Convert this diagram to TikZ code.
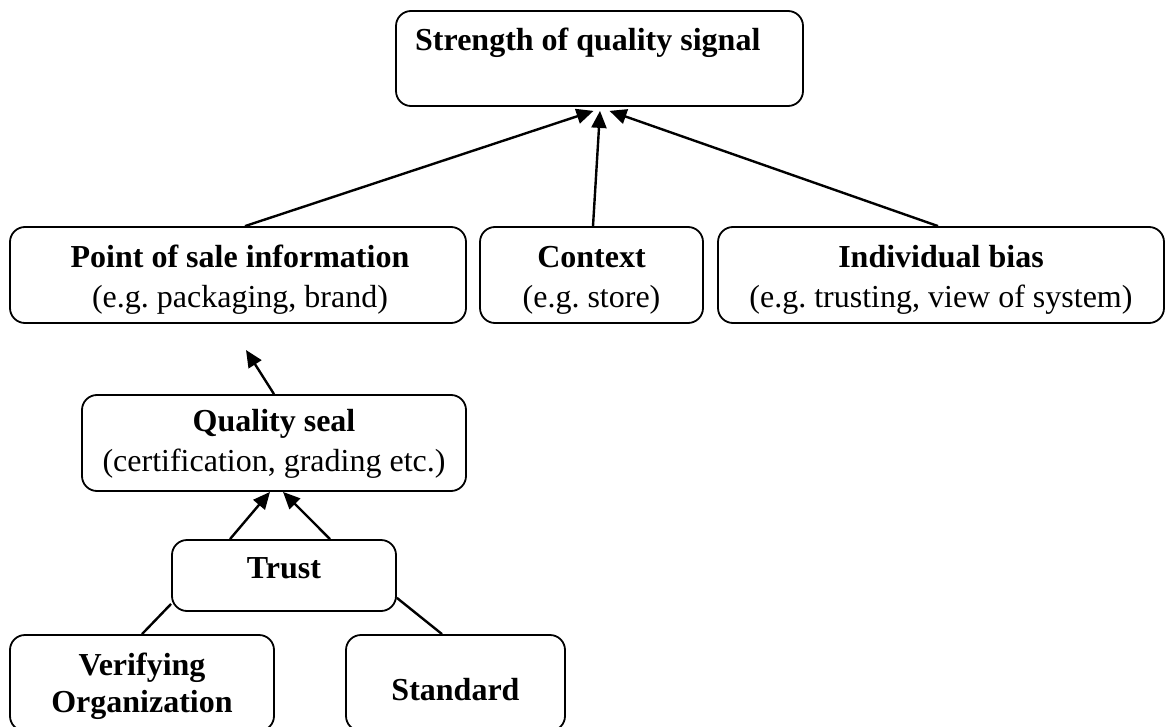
\documentclass[tikz,border=0pt]{standalone}
\usepackage{fontspec}
\setmainfont{Liberation Serif}
\usetikzlibrary{arrows.meta,calc}
\frenchspacing
\begin{document}
\begin{tikzpicture}[x=1pt,y=-1pt,
  box/.style={draw,line width=1.8pt,rounded corners=15pt,inner sep=0pt,anchor=center},
  txt/.style={font=\fontsize{32}{40}\selectfont,align=center,inner sep=0pt},
  link/.style={line width=2.4pt},
  arr/.style={line width=2.4pt,-{Triangle[length=17pt,width=15pt]}}]
\useasboundingbox (0,0) rectangle (1169,727);
% boxes
\node[box,minimum width=407pt,minimum height=95pt] (top) at (599.5,58.5) {};
\node[box,minimum width=456pt,minimum height=96pt] (pos) at (238,275) {};
\node[box,minimum width=223pt,minimum height=96pt] (ctx) at (591.5,275) {};
\node[box,minimum width=446pt,minimum height=96pt] (bias) at (941,275) {};
\node[box,minimum width=384pt,minimum height=96pt] (seal) at (274,443) {};
\node[box,minimum width=224pt,minimum height=71pt] (trust) at (284,575.5) {};
\node[box,minimum width=264pt,minimum height=96pt] (ver) at (142,683) {};
\node[box,minimum width=219pt,minimum height=96pt] (std) at (455.5,683) {};
% texts
\node[txt,anchor=base west] (ttop) at (415,51) {\bfseries Strength of quality signal};
\node[txt,anchor=base] (tpos) at (240,307) {\bfseries Point of sale information\\(e.g. packaging, brand)};
\node[txt,anchor=base] (tctx) at (591.5,307) {\bfseries Context\\(e.g. store)};
\node[txt,anchor=base] (tbias) at (941,307) {\bfseries Individual bias\\(e.g. trusting, view of system)};
\node[txt,anchor=base] (tseal) at (274,471) {\bfseries Quality seal\\(certification, grading etc.)};
\node[txt,anchor=base] (ttrust) at (284,578) {\bfseries Trust};
\node[txt,anchor=base,font=\fontsize{32}{37}\selectfont\bfseries] (tver) at (142,712) {Verifying\\Organization};
\node[txt,anchor=base] (tstd) at (455.5,700) {\bfseries Standard};
% connectors
\draw[arr] ($(pos.north)+(7,0)$) -- ($(top.south)+(-6,4)$);
\draw[arr] ($(ctx.north)+(1.5,0)$) -- ($(top.south)+(0.5,4)$);
\draw[arr] ($(bias.north)+(-3,0)$) -- ($(top.south)+(10,4)$);
\coordinate (free) at (246,350);
\draw[arr] (seal.north) -- (free);
\draw[arr] ($(trust.north)+(-54,0)$) -- ($(seal.south)+(-4,0)$);
\draw[arr] ($(trust.north)+(46,0)$) -- ($(seal.south)+(9,0)$);
\draw[link] ($(trust.south west)+(0,-8)$) -- (ver.north);
\draw[link] ($(trust.south east)+(0,-14)$) -- ($(std.north)+(-13.5,0)$);
\end{tikzpicture}
\end{document}
